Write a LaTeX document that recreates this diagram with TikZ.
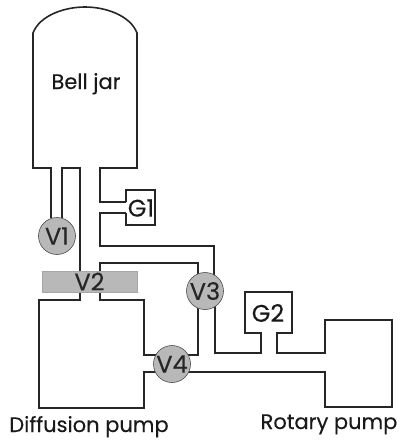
\documentclass[tikz,border=0pt]{standalone}
\usepackage{fontspec}
\setmainfont{Poppins}[FakeBold=0.25]
\tikzset{
  wall/.style={line width=1.6pt,black!85,line join=miter},
  valve/.style={circle,draw=black!70,line width=0.6pt,fill=black!28,minimum size=37pt,inner sep=0pt,font=\fontsize{24}{24}\selectfont,text=black!85},
  slide/.style={draw=black!35,line width=0.4pt,fill=black!28,minimum width=95pt,minimum height=21pt,inner sep=0pt,font=\fontsize{24}{24}\selectfont,text=black!85},
  lab/.style={inner sep=0pt,anchor=base,font=\fontsize{21}{21}\selectfont,text=black!90},
  gauge/.style={inner sep=0pt,font=\fontsize{24}{24}\selectfont,text=black!90}
}
\begin{document}
\begin{tikzpicture}[x=1pt,y=-1pt]
\useasboundingbox (0,0) rectangle (401,440);
% bell jar and its ports
\draw[wall] (51,218) -- (51,168) -- (33,168) -- (33,33)
  .. controls (40,15) and (65,7) .. (85,7)
  .. controls (105,7) and (130,15) .. (137,33)
  -- (137,168) -- (100,168) -- (100,202) -- (126,202);
\draw[wall] (62,218) -- (62,168) -- (80,168) -- (80,280);
% G1 gauge
\draw[wall] (126,213) -- (126,225) -- (155,225) -- (155,190) -- (126,190) -- (126,202);
\draw[wall] (126,213) -- (100,213) -- (100,246) -- (214,246) -- (214,290);
% foreline from V2 to V3
\draw[wall] (100,280) -- (100,263) -- (198,263) -- (198,290);
% diffusion pump
\draw[wall] (80,280) -- (80,300) -- (39,300) -- (39,408) -- (144,408) -- (144,372) -- (172,372);
\draw[wall] (100,280) -- (100,300) -- (144,300) -- (144,355) -- (172,355);
% V3 to V4
\draw[wall] (198,291) -- (198,355) -- (172,355);
% V3 to G2 and rotary pump
\draw[wall] (215,291) -- (215,353) -- (261,353) -- (261,333) -- (245,333) -- (245,292) -- (292,292) -- (292,333) -- (277,333) -- (277,353) -- (325,353) -- (325,320) -- (392,320) -- (392,407) -- (325,407) -- (325,372) -- (172,372);
% components
\node[valve] (V1) at (57,236) {V1};
\node[slide] (V2) at (89.5,281.5) {V2};
\node[valve] (V3) at (205,291) {V3};
\node[valve] (V4) at (172,364) {V4};
\node[gauge] (G1) at (141,208) {G1};
\node[gauge] (G2) at (268,313) {G2};
\node[lab] (bell) at (86,89) {Bell jar};
\node[lab] (diff) at (89,432) {Diffusion pump};
\node[lab] (rot) at (329,429) {Rotary pump};
\end{tikzpicture}
\end{document}
